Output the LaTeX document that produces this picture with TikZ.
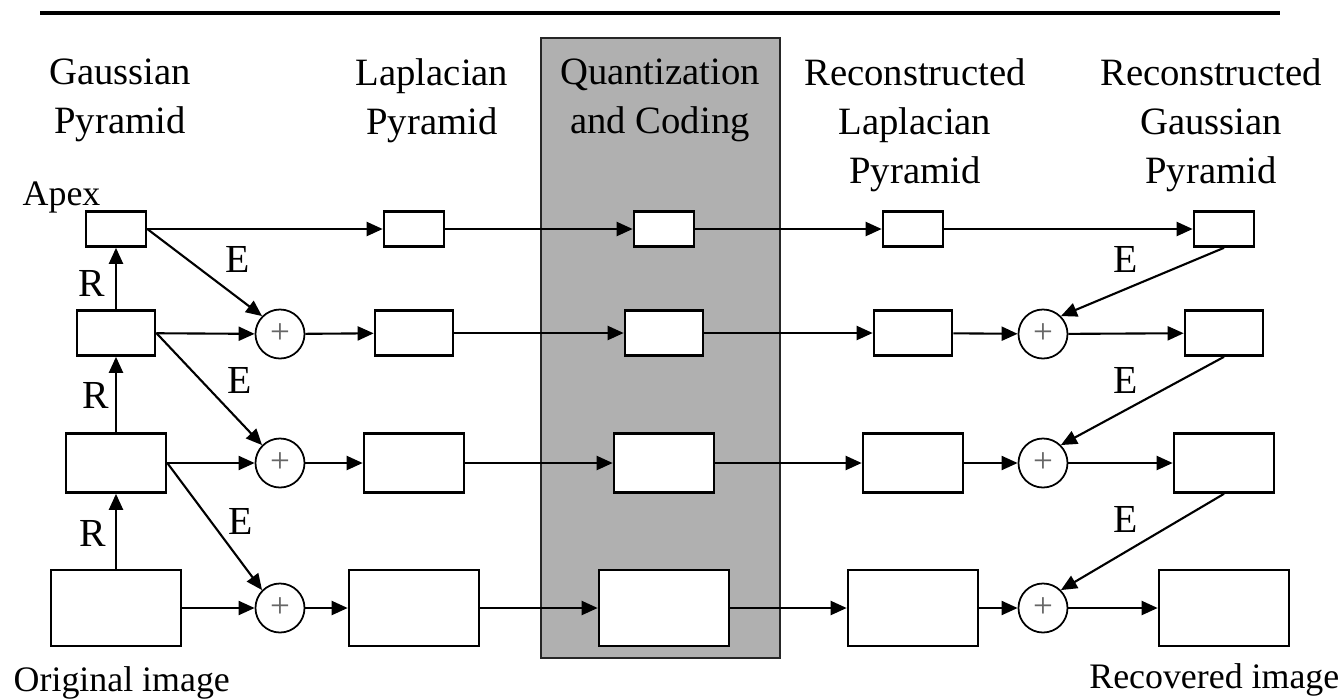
\documentclass[tikz,border=0pt]{standalone}
\usepackage{fontspec}
\setmainfont{Liberation Serif}
\usetikzlibrary{arrows.meta,positioning}
\definecolor{qc}{HTML}{B0B0B0}

\begin{document}
\begin{tikzpicture}
[x=0.01cm, y=-0.01cm,
arr/.style={-{Triangle[length=1.6mm,width=1.4mm]},line width=0.6pt},
blk/.style={draw,fill=white,line width=0.75pt,inner sep=0pt},
sum/.style={circle,draw,fill=white,line width=0.5pt,minimum size=4.9mm,inner sep=0pt,text=black!60,font=\fontsize{10}{10}\selectfont},
hdr/.style={align=center,anchor=north,inner sep=0pt,font=\fontsize{11}{13.9}\selectfont},
lbl/.style={inner sep=0pt,font=\fontsize{11.3}{13}\selectfont},
imgtxt/.style={inner sep=0pt,font=\fontsize{10.2}{12}\selectfont}]
\useasboundingbox (0,0) rectangle (1344,699);
%%%%%%%%%%
% one level of all five pyramids
\newcommand{\pyrow}[4]{
\node[blk,minimum width=#3*0.01cm,minimum height=#4*0.01cm] (g#1) at (116,#2) {};
\node[blk,minimum width=#3*0.01cm,minimum height=#4*0.01cm] (l#1) at (414,#2) {};
\node[blk,minimum width=#3*0.01cm,minimum height=#4*0.01cm] (q#1) at (664,#2) {};
\node[blk,minimum width=#3*0.01cm,minimum height=#4*0.01cm] (rl#1) at (913,#2) {};
\node[blk,minimum width=#3*0.01cm,minimum height=#4*0.01cm] (rg#1) at (1224,#2) {};
}
\newcommand{\sumrow}[2]{
\node[sum] (p#1) at (280,#2) {+};
\node[sum] (pr#1) at (1043,#2) {+};
}
%%%%%%%%%%

%% rule and coding stage
\draw[line width=1.15pt] (40,13) -- (1280,13);
\draw[fill=qc,draw=black!85,line width=0.6pt] (541,38) rectangle (780,658);

%% titles
\node[hdr] (tg) at (120,58) {Gaussian\\Pyramid};
\node[hdr] (tl) at (432,58) {Laplacian\\Pyramid};
\node[hdr] (tq) at (660,58) {Quantization\\and Coding};
\node[hdr] (trl) at (915,58) {Reconstructed\\Laplacian\\Pyramid};
\node[hdr] (trg) at (1211,58) {Reconstructed\\Gaussian\\Pyramid};

%% levels
\pyrow{1}{229}{60}{35}
\pyrow{2}{333}{78}{45}
\pyrow{3}{463}{100}{59}
\pyrow{4}{608}{130}{76}
\sumrow{2}{334}
\sumrow{3}{463}
\sumrow{4}{608}

\node[imgtxt,anchor=base west] (apex) at (22,205) {Apex};
\node[imgtxt,anchor=base west] (orig) at (13,691) {Original image};
\node[imgtxt,anchor=base east] (rec) at (1340,688) {Recovered image};

%% apex level
\draw[arr] (g1) -- (l1);
\draw[arr] (l1) -- (q1);
\draw[arr] (q1) -- (rl1);
\draw[arr] (rl1) -- (rg1);

%% lower levels
\foreach \r [count=\u] in {2,3,4}{
\draw[arr] (g\r) -- (p\r);
\draw[arr] (p\r) -- (l\r);
\draw[arr] (l\r) -- (q\r);
\draw[arr] (q\r) -- (rl\r);
\draw[arr] (rl\r) -- (pr\r);
\draw[arr] (pr\r) -- (rg\r);
\draw[arr] (g\r.north) -- (g\u.south);
\draw[arr] (g\u.east) -- (p\r.north west);
\draw[arr] (rg\u.south) -- (pr\r.north east);
}

%% R and E labels
\node[lbl] (r1) at (92,283) {R};
\node[lbl] (r2) at (96,395) {R};
\node[lbl] (r3) at (93,533) {R};
\node[lbl] (e1) at (238,259) {E};
\node[lbl] (e2) at (240,380) {E};
\node[lbl] (e3) at (241,521) {E};
\node[lbl] (e4) at (1126,259) {E};
\node[lbl] (e5) at (1126,380) {E};
\node[lbl] (e6) at (1126,519) {E};
\end{tikzpicture}
\end{document}
